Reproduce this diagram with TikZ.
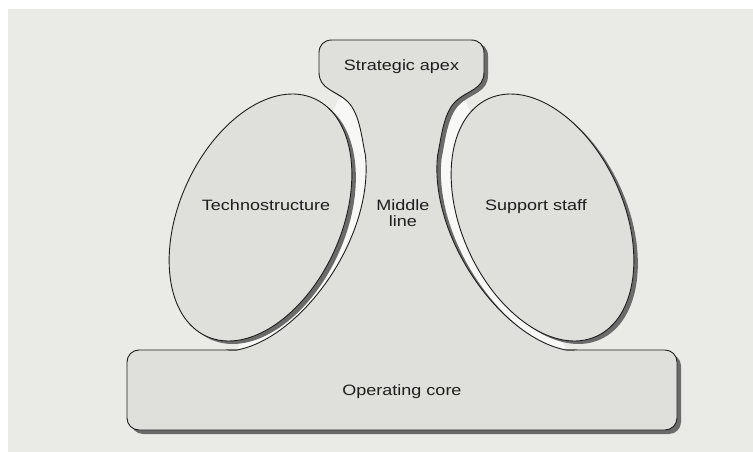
\documentclass[tikz,border=0pt]{standalone}
\usepackage{fontspec}
\setmainfont{Liberation Sans}
\usepackage{graphicx}
\usetikzlibrary{positioning}

\definecolor{paper}{HTML}{EAEAE6}
\definecolor{fillgray}{HTML}{DFDFDB}
\definecolor{gapwhite}{HTML}{F8F8F6}
\definecolor{dropgray}{HTML}{6B6B6B}
\definecolor{ink}{HTML}{1E1E1E}

% unit names are set a bit wide
\newcommand{\wide}[1]{\scalebox{1.2}[1]{#1}}

% edge of the middle line: the technostructure ellipse pushed out by \gapw
\newcommand{\gapw}[1]{(7+8*cos(#1-35)^2)}
\newcommand{\normlen}[1]{sqrt((8.1*cos(#1))^2+(13.05*sin(#1))^2)}
\newcommand{\majk}[1]{(130.5+\gapw{#1}*8.1/\normlen{#1})}
\newcommand{\mink}[1]{(81+\gapw{#1}*13.05/\normlen{#1})}
\newcommand{\offx}[1]{(260.5+\majk{#1}*cos(#1)*0.4131+\mink{#1}*sin(#1)*0.9107)}
\newcommand{\offy}[1]{(217.5-\majk{#1}*cos(#1)*0.9107+\mink{#1}*sin(#1)*0.4131)}

% strategic apex + middle line, open where it sits on the operating core
\newcommand{\midline}{(226,350) -- plot[domain=160:45,samples=40,variable=\t] ({\offx{\t}},{\offy{\t}})
  .. controls (362,140) and (360,114) .. (348,102)
  .. controls (336,90) and (319,90) .. (319,72)
  -- (319,53) .. controls (319,45) and (324,40) .. (332,40)
  -- (471,40) .. controls (479,40) and (484,45) .. (484,53)
  -- (484,72) .. controls (484,90) and (467,90) .. (455,102)
  .. controls (443,114) and (441,140) .. (437.6,155.2)
  -- plot[domain=45:160,samples=40,variable=\t] ({803-\offx{\t}},{\offy{\t}})
  -- (577,350)}

\begin{document}
\begin{tikzpicture}[x=1pt,y=-1pt,line join=round]
	\tikzstyle{part}=[fill=fillgray,draw=ink,line width=0.9pt]
	\tikzstyle{drop}=[fill=dropgray]
	\tikzstyle{halo}=[draw=gapwhite,line width=36pt]
	\tikzstyle{unitname}=[font=\fontsize{15}{16}\selectfont,text=ink,inner sep=0pt]

	% page
	\fill[white] (0,0) rectangle (753,452);
	\fill[paper] (8,9) rectangle (753,452);
	\useasboundingbox (0,0) rectangle (753,452);

	% white gap between the staff ellipses and the middle line
	\begin{scope}
		\clip (338,100) -- (236,352) -- (401.5,352) -- (401.5,60) -- cycle;
		\path[halo,shift={(260.5,217.5)},rotate=-24.4] (0,0) ellipse [x radius=81,y radius=130.5];
	\end{scope}
	\begin{scope}
		\clip (465,100) -- (567,352) -- (401.5,352) -- (401.5,60) -- cycle;
		\path[halo,shift={(542.5,217.5)},rotate=24.4] (0,0) ellipse [x radius=81,y radius=130.5];
	\end{scope}

	% middle line shadow, operating core, middle line
	\fill[drop,shift={(4,3)}] \midline -- (577,356) -- (226,356) -- cycle;
	\fill[drop,rounded corners=12pt] (131,354) rectangle (681,434);
	\path[part,rounded corners=12pt] (127,350) rectangle (677,430);
	\fill[fillgray] \midline -- (577,356) -- (226,356) -- cycle;
	\draw[ink,line width=0.9pt] \midline;

	% technostructure and support staff
	\fill[drop,shift={(264.5,220.5)},rotate=-24.4] (0,0) ellipse [x radius=81,y radius=130.5];
	\path[part,shift={(260.5,217.5)},rotate=-24.4] (0,0) ellipse [x radius=81,y radius=130.5];
	\fill[drop,shift={(546.5,220.5)},rotate=24.4] (0,0) ellipse [x radius=81,y radius=130.5];
	\path[part,shift={(542.5,217.5)},rotate=24.4] (0,0) ellipse [x radius=81,y radius=130.5];

	\node[unitname,anchor=base] (apex) at (401.5,70.7) {\wide{Strategic apex}};
	\node[unitname,anchor=base] (techno) at (266,210) {\wide{Technostructure}};
	\node[unitname,anchor=base] (support) at (536,210) {\wide{Support staff}};
	\node[unitname,align=center] (middle) at (403,213) {\wide{Middle}\\\wide{line}};
	\node[unitname,anchor=base] (core) at (402,395) {\wide{Operating core}};
\end{tikzpicture}
\end{document}
